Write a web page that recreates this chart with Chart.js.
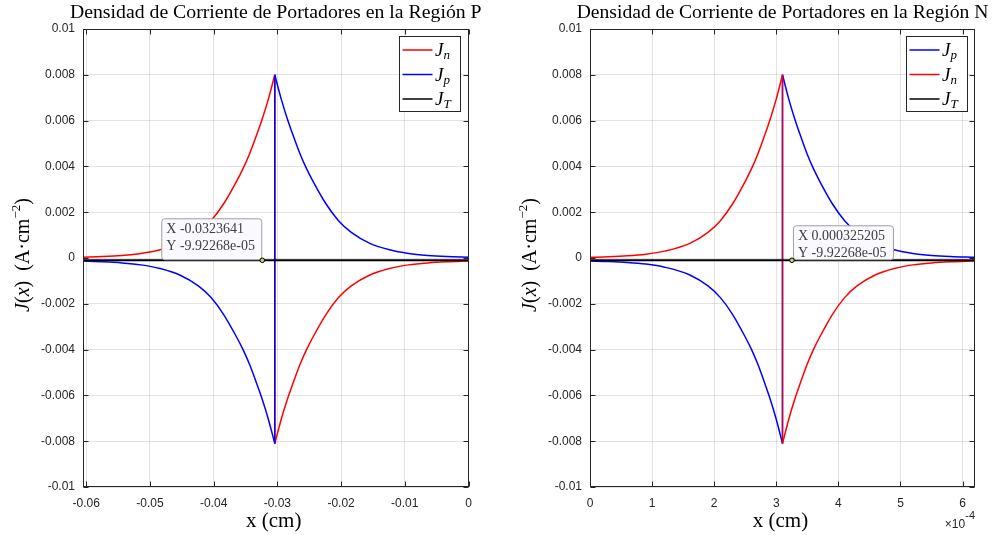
<!DOCTYPE html>
<html><head><meta charset="utf-8">
<script src="https://cdn.jsdelivr.net/npm/chart.js@4/dist/chart.umd.min.js"></script>
<style>
html,body{margin:0;padding:0;background:#fff;width:992px;height:535px;overflow:hidden}
canvas{position:absolute;top:0}
#cP{left:0}#cN{left:496px}
</style></head><body>
<canvas id="cP" width="496" height="535"></canvas>
<canvas id="cN" width="496" height="535"></canvas>
<script>
// ---------- data ----------
const JT = -9.92268e-5;
// Región P
const xP = [-0.0605, -0.0574, -0.0544, -0.0514, -0.0484, -0.0454, -0.0424, -0.0404, -0.0384, -0.0364, -0.0354, -0.0344, -0.0334, -0.0324, -0.0314, -0.0304,
            -0.0304, -0.0294, -0.0284, -0.0274, -0.0264, -0.0254, -0.0244, -0.0224, -0.0204, -0.0184, -0.0154, -0.0124, -0.0094, -0.0064, -0.0034, 0];
const jnP = [0.000035, 0.000065, 0.000114, 0.0002, 0.00036, 0.00063, 0.00112, 0.00163, 0.00238, 0.00335, 0.00389, 0.00452, 0.00526, 0.00605, 0.00695, 0.0080,
             -0.0081, -0.00705, -0.00615, -0.00536, -0.00462, -0.00399, -0.00345, -0.00248, -0.00173, -0.00122, -0.00073, -0.00046, -0.0003, -0.000214, -0.000165, -0.000134];
const jpP = [-0.000135, -0.000165, -0.000214, -0.0003, -0.00046, -0.00073, -0.00122, -0.00173, -0.00248, -0.00345, -0.00399, -0.00462, -0.00536, -0.00615, -0.00705, -0.0081,
             0.0080, 0.00695, 0.00605, 0.00526, 0.00452, 0.00389, 0.00335, 0.00238, 0.00163, 0.00112, 0.00063, 0.00036, 0.0002, 0.000114, 0.000065, 0.000034];
// Región N
const xN = [0, 0.00003, 0.00006, 0.00009, 0.00012, 0.00016, 0.00019, 0.00021, 0.00023, 0.00025, 0.00026, 0.00027, 0.00028, 0.00029, 0.00030, 0.00031,
            0.00031, 0.00032, 0.00033, 0.00034, 0.00035, 0.00036, 0.00037, 0.00039, 0.00041, 0.00043, 0.00046, 0.00049, 0.00052, 0.00055, 0.00058, 0.00062];
const jnN = [0.00003, 0.000054, 0.000095, 0.000167, 0.0003, 0.00063, 0.00112, 0.00163, 0.00238, 0.00335, 0.00389, 0.00452, 0.00526, 0.00605, 0.00695, 0.0080,
             -0.0081, -0.00705, -0.00615, -0.00536, -0.00462, -0.00399, -0.00345, -0.00248, -0.00173, -0.00122, -0.00073, -0.00046, -0.0003, -0.000214, -0.000165, -0.00013];
const jpN = [-0.00013, -0.000154, -0.000195, -0.000267, -0.0004, -0.00073, -0.00122, -0.00173, -0.00248, -0.00345, -0.00399, -0.00462, -0.00536, -0.00615, -0.00705, -0.0081,
             0.0080, 0.00695, 0.00605, 0.00526, 0.00452, 0.00389, 0.00335, 0.00238, 0.00163, 0.00112, 0.00063, 0.00036, 0.0002, 0.000114, 0.000065, 0.00003];
// ticks
const yTicks = [-0.01, -0.008, -0.006, -0.004, -0.002, 0, 0.002, 0.004, 0.006, 0.008, 0.01];
const xTicksP = [-0.06, -0.05, -0.04, -0.03, -0.02, -0.01, 0];
const xTicksN = [0, 0.0001, 0.0002, 0.0003, 0.0004, 0.0005, 0.0006];
const xRangeP = [-0.0605, 0];
const xRangeN = [0, 0.00062];
const yRange = [-0.01, 0.01];
const tipP = {x: -0.0323641, y: -9.92268e-05, lines: ['X -0.0323641', 'Y -9.92268e-05']};
const tipN = {x: 0.000325205, y: -9.92268e-05, lines: ['X 0.000325205', 'Y -9.92268e-05']};
const titleP = 'Densidad de Corriente de Portadores en la Región P';
const titleN = 'Densidad de Corriente de Portadores en la Región N';

// ---------- styling ----------
const SERIF = '"Liberation Serif","Times New Roman",serif';
const SANS = '"Liberation Sans",Arial,Helvetica,sans-serif';
const RED = '#ff0000', BLUE = '#0000ff', BLACK = '#000000';
const AX = '#262626';

function fmt(v){ return String(Number(v.toPrecision(6))); }

function seriesSets(xs, ys, color, order, vColor){
  const pts = xs.map((x,i)=>({x:x, y:ys[i]}));
  let k = 0; for(let i=0;i<xs.length-1;i++){ if(xs[i]===xs[i+1]){k=i;break;} }
  const base = {borderColor:color, backgroundColor:color, borderWidth:1.5, pointRadius:0, fill:false, order:order};
  return [
    Object.assign({data:pts.slice(0,k+1), cubicInterpolationMode:'monotone'}, base),
    Object.assign({data:pts.slice(k+1), cubicInterpolationMode:'monotone'}, base),
    Object.assign({data:[pts[k], pts[k+1]], tension:0}, base, {borderColor: vColor || color})
  ];
}

function drawRich(ctx, pieces, x, y, align){
  let total = 0;
  pieces.forEach(p=>{ ctx.font = p.f; p.w = ctx.measureText(p.t).width; total += p.w; });
  let cx = align==='center' ? x - total/2 : (align==='right' ? x - total : x);
  pieces.forEach(p=>{ ctx.font = p.f; ctx.fillText(p.t, cx, y + (p.dy||0)); cx += p.w; });
  return total;
}

function decoPlugin(o){
  return {
    id:'deco',
    afterDraw(chart){
      const ctx = chart.ctx, a = chart.chartArea, xs = chart.scales.x, ys = chart.scales.y;
      ctx.save();
      // frame + inward ticks
      ctx.strokeStyle = AX; ctx.lineWidth = 1;
      const L = Math.round(a.left)+0.5, R = Math.round(a.right)-0.5, T = Math.round(a.top)+0.5, B = Math.round(a.bottom)-0.5;
      ctx.strokeRect(L, T, R-L, B-T);
      const tl = 5;
      ctx.beginPath();
      xs.ticks.forEach(t=>{ const px = Math.round(xs.getPixelForValue(t.value))+0.5; ctx.moveTo(px,B); ctx.lineTo(px,B-tl); ctx.moveTo(px,T); ctx.lineTo(px,T+tl); });
      ys.ticks.forEach(t=>{ const py = Math.round(ys.getPixelForValue(t.value))+0.5; ctx.moveTo(L,py); ctx.lineTo(L+tl,py); ctx.moveTo(R,py); ctx.lineTo(R-tl,py); });
      ctx.stroke();
      // title
      ctx.fillStyle = '#000'; ctx.textBaseline = 'alphabetic'; ctx.textAlign = 'left';
      ctx.font = `17px ${SERIF}`;
      let w = ctx.measureText(o.title).width;
      let fs = Math.max(14, Math.min(20, 17*o.titleW/w));
      drawRich(ctx, [{t:o.title, f:`${fs}px ${SERIF}`}], (a.left+a.right)/2, 18, 'center');
      // x label
      drawRich(ctx, [{t:'x (cm)', f:`21px ${SERIF}`}], (a.left+a.right)/2 - 2, 527, 'center');
      // y label (rotated)
      ctx.save();
      ctx.translate(a.left-54, (a.top+a.bottom)/2 - 3);
      ctx.rotate(-Math.PI/2);
      drawRich(ctx, [
        {t:'J', f:`italic 20px ${SERIF}`},
        {t:'(', f:`20px ${SERIF}`},
        {t:'x', f:`italic 20px ${SERIF}`},
        {t:')  (A·cm', f:`20px ${SERIF}`},
        {t:'−2', f:`13px ${SERIF}`, dy:-9},
        {t:')', f:`20px ${SERIF}`}
      ], 0, 0, 'center');
      ctx.restore();
      // exponent label
      if(o.expo){
        ctx.fillStyle = AX;
        ctx.font = `11px ${SANS}`;
        const ew = ctx.measureText('-4').width;
        ctx.fillText('-4', a.right - ew, 519);
        ctx.font = `12px ${SANS}`;
        const bw = ctx.measureText('×10').width;
        ctx.fillText('×10', a.right - ew - bw, 528);
      }
      // datatip
      const tp = o.tip;
      const px = xs.getPixelForValue(tp.x), py = ys.getPixelForValue(tp.y);
      const bx = o.tipLeft ? px - 101 : px + 1;
      const by = py - o.tipH - 1;
      ctx.beginPath();
      ctx.roundRect(bx+0.5, by+0.5, 100, o.tipH, 3);
      ctx.fillStyle = '#f9f9fe'; ctx.fill();
      ctx.strokeStyle = '#a0a0a0'; ctx.lineWidth = 1; ctx.stroke();
      ctx.fillStyle = '#404040';
      ctx.font = `14px ${SERIF}`;
      ctx.fillText(tp.lines[0], bx+5, by+15);
      ctx.fillText(tp.lines[1], bx+5, by+32);
      ctx.beginPath(); ctx.arc(px, py, 2.3, 0, Math.PI*2);
      ctx.fillStyle = '#cfcf70'; ctx.fill(); ctx.strokeStyle = '#000'; ctx.lineWidth = 1; ctx.stroke();
      // legend
      const lw = 62, lh = 76;
      const lx = Math.round(a.right - 7.5 - lw), ly = Math.round(a.top + 7);
      ctx.fillStyle = '#fff'; ctx.fillRect(lx, ly, lw, lh);
      ctx.strokeStyle = AX; ctx.lineWidth = 1; ctx.strokeRect(lx+0.5, ly+0.5, lw-1, lh-1);
      o.legend.forEach((it,i)=>{
        const ry = ly + 14 + i*24.5;
        ctx.strokeStyle = it.c; ctx.lineWidth = it.w;
        ctx.beginPath(); ctx.moveTo(lx+3.5, ry); ctx.lineTo(lx+33.5, ry); ctx.stroke();
        ctx.fillStyle = '#000';
        ctx.font = `italic 19px ${SERIF}`;
        ctx.fillText('J', lx+36, ry+6);
        const jw = ctx.measureText('J').width;
        ctx.font = `italic 13px ${SERIF}`;
        ctx.fillText(it.s, lx+36+jw, ry+9);
      });
      ctx.restore();
    }
  };
}

function makeChart(id, sets, xr, xt, xcb, leftW, padR, deco){
  const jtSet = {data:[{x:xr[0], y:JT},{x:xr[1], y:JT}], borderColor:BLACK, borderWidth:2, pointRadius:0, fill:false, order:0, tension:0};
  return new Chart(document.getElementById(id), {
    type:'line',
    data:{datasets: sets.concat([jtSet])},
    options:{
      responsive:false, animation:false, devicePixelRatio:1,
      layout:{padding:{left:0, right:padR, top:29, bottom:0}},
      plugins:{legend:{display:false}, tooltip:{enabled:false}, title:{display:false}},
      scales:{
        x:{type:'linear', min:xr[0], max:xr[1],
           afterBuildTicks:s=>{ s.ticks = xt.map(v=>({value:v})); },
           afterFit:s=>{ s.height = 48; },
           grid:{color:'rgba(38,38,38,0.13)', drawTicks:false, lineWidth:1},
           border:{display:false},
           ticks:{padding:9, color:AX, font:{family:SANS, size:12}, callback:xcb, maxRotation:0, autoSkip:false}},
        y:{type:'linear', min:yRange[0], max:yRange[1],
           afterBuildTicks:s=>{ s.ticks = yTicks.map(v=>({value:v})); },
           afterFit:s=>{ s.width = leftW; },
           grid:{color:'rgba(38,38,38,0.13)', drawTicks:false, lineWidth:1},
           border:{display:false},
           ticks:{padding:8, color:AX, font:{family:SANS, size:12}, callback:v=>fmt(v), autoSkip:false}}
      }
    },
    plugins:[deco]
  });
}

// Región P: Jn drawn first (below), Jp over it
const setsP = seriesSets(xP, jnP, RED, 2).concat(seriesSets(xP, jpP, BLUE, 1));
makeChart('cP', setsP, xRangeP, xTicksP, v=>fmt(v), 83, 27.5,
  decoPlugin({title:titleP, titleW:412, tip:tipP, tipLeft:true, tipH:41, expo:false,
    legend:[{c:RED, w:1.5, s:'n'},{c:BLUE, w:1.5, s:'p'},{c:BLACK, w:1.5, s:'T'}]}));

// Región N: Jp drawn first (below), Jn over it
const setsN = seriesSets(xN, jpN, BLUE, 2).concat(seriesSets(xN, jnN, RED, 1, 'rgba(230,0,20,0.85)'));
makeChart('cN', setsN, xRangeN, xTicksN, v=>fmt(v*1e4), 94, 17,
  decoPlugin({title:titleN, titleW:412, tip:tipN, tipLeft:false, tipH:34, expo:true,
    legend:[{c:BLUE, w:1.5, s:'p'},{c:RED, w:1.5, s:'n'},{c:BLACK, w:1.5, s:'T'}]}));
</script>
</body></html>
